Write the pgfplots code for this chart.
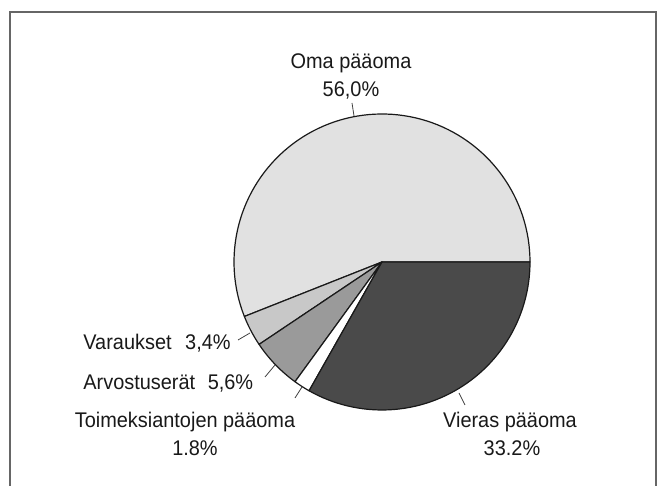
\documentclass[border=0pt]{standalone}
\usepackage{fontspec}
\setmainfont{Liberation Sans}[FakeStretch=0.94]
\usepackage{pgfplots}
\pgfplotsset{compat=1.18}
\definecolor{cOma}{HTML}{E1E1E1}
\definecolor{cVar}{HTML}{C8C8C8}
\definecolor{cArv}{HTML}{9A9A9A}
\definecolor{cToi}{HTML}{FFFFFF}
\definecolor{cVie}{HTML}{4A4A4A}
\definecolor{cFrame}{HTML}{666666}
% shares in percent
\def\pOma{56.0}
\def\pVar{3.4}
\def\pArv{5.6}
\def\pToi{1.8}
\def\pVie{33.2}
\begin{document}
\begin{tikzpicture}
\pgfmathsetmacro{\aA}{0}
\pgfmathsetmacro{\aB}{\aA+3.6*\pOma}
\pgfmathsetmacro{\aC}{\aB+3.6*\pVar}
\pgfmathsetmacro{\aD}{\aC+3.6*\pArv}
\pgfmathsetmacro{\aE}{\aD+3.6*\pToi}
\pgfmathsetmacro{\aF}{\aE+3.6*\pVie}
\def\cx{382}\def\cy{224}\def\r{148}
\begin{axis}[
  scale only axis, width=333pt, height=243pt,
  xmin=0, xmax=666, ymin=0, ymax=486,
  hide axis, clip=false,
  every axis plot/.append style={draw=black!90, line width=0.6pt, line join=round},
  nodes={font=\fontsize{10.6}{12}\selectfont, text=black!90, inner sep=0pt},
]
\addplot[fill=cOma, domain=\aA:\aB, samples=90, variable=\t] ({\cx+\r*cos(\t)},{\cy+\r*sin(\t)}) -- (axis cs:\cx,\cy) -- cycle;
\addplot[fill=cVar, domain=\aB:\aC, samples=10, variable=\t] ({\cx+\r*cos(\t)},{\cy+\r*sin(\t)}) -- (axis cs:\cx,\cy) -- cycle;
\addplot[fill=cArv, domain=\aC:\aD, samples=12, variable=\t] ({\cx+\r*cos(\t)},{\cy+\r*sin(\t)}) -- (axis cs:\cx,\cy) -- cycle;
\addplot[fill=cToi, domain=\aD:\aE, samples=6, variable=\t] ({\cx+\r*cos(\t)},{\cy+\r*sin(\t)}) -- (axis cs:\cx,\cy) -- cycle;
\addplot[fill=cVie, domain=\aE:\aF, samples=60, variable=\t] ({\cx+\r*cos(\t)},{\cy+\r*sin(\t)}) -- (axis cs:\cx,\cy) -- cycle;
% frame
\draw[cFrame, line width=0.7pt] (axis cs:10,0) -- (axis cs:10,474) -- (axis cs:656,474) -- (axis cs:656,0);
% leader lines
\draw[black!75, line width=0.4pt] (axis cs:352,383) -- (axis cs:354,370);
\draw[black!75, line width=0.4pt] (axis cs:459,93) -- (axis cs:465,81);
\draw[black!75, line width=0.4pt] (axis cs:238,146) -- (axis cs:250,153);
\draw[black!75, line width=0.4pt] (axis cs:265,109) -- (axis cs:275,121);
\draw[black!75, line width=0.4pt] (axis cs:295,88) -- (axis cs:302,99);
% labels
\node[anchor=base] at (axis cs:351,417) {Oma pääoma};
\node[anchor=base] at (axis cs:351,389) {56,0\%};
\node[anchor=base] at (axis cs:510,58) {Vieras pääoma};
\node[anchor=base] at (axis cs:512,30) {33.2\%};
\node[anchor=base west] at (axis cs:83,136) {Varaukset\hspace{4pt} 3,4\%};
\node[anchor=base west] at (axis cs:83,96) {Arvostuserät\hspace{3.5pt} 5,6\%};
\node[anchor=base] at (axis cs:185,58) {Toimeksiantojen pääoma};
\node[anchor=base] at (axis cs:195,30) {1.8\%};
\end{axis}
\pgfresetboundingbox
\useasboundingbox (current axis.south west) rectangle (current axis.north east);
\end{tikzpicture}
\end{document}
